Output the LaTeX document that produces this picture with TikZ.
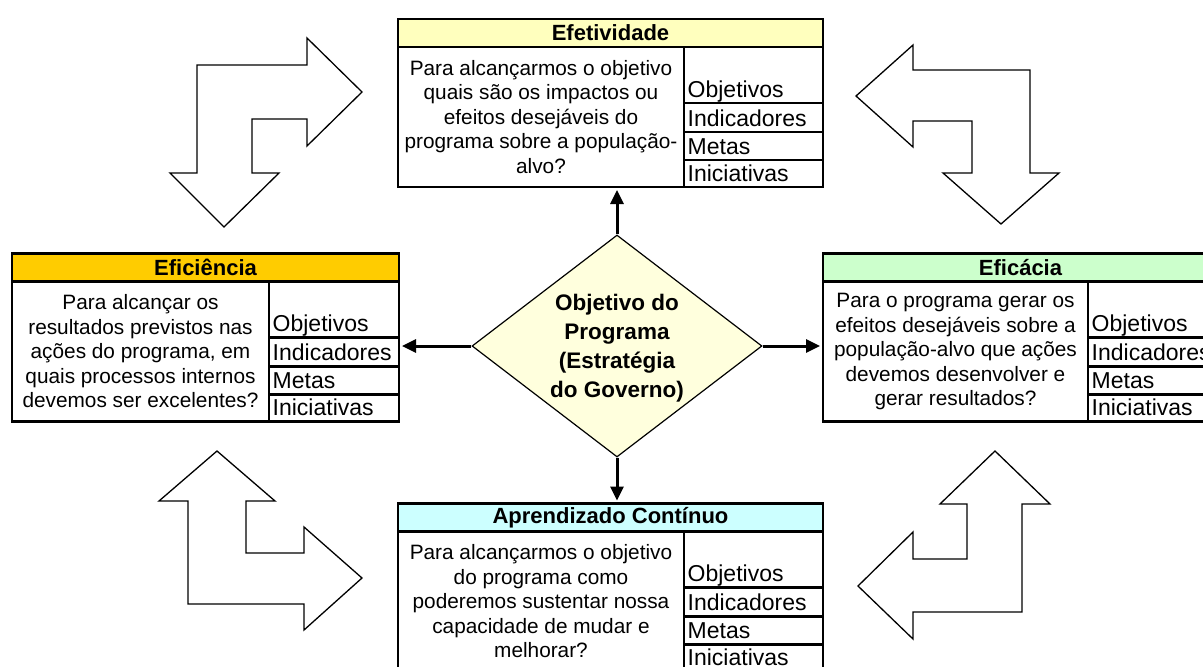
\documentclass[tikz,border=0pt]{standalone}
\usepackage{fontspec}
\setmainfont{Liberation Sans}
\usetikzlibrary{shapes.geometric,arrows.meta}
\definecolor{efeY}{RGB}{255,255,190}
\definecolor{efiY}{RGB}{255,204,0}
\definecolor{efcG}{RGB}{204,255,204}
\definecolor{aprC}{RGB}{204,255,255}
\definecolor{diaY}{RGB}{255,255,221}
\tikzset{
  cellbox/.style={draw, rectangle, line width=2.9pt, inner sep=0pt, outer sep=0pt},
  hdrbox/.style={cellbox, minimum height=28, font={\fontsize{22}{24}\selectfont\bfseries}},
  bodybox/.style={cellbox, minimum height=140, align=center, font={\fontsize{20.8}{24.5}\selectfont}},
  rowtext/.style={inner sep=0pt, anchor=base west, xshift=3.5pt, yshift=6pt, font={\fontsize{23}{25}\selectfont}},
  dia/.style={draw, diamond, fill=diaY, line width=1.2pt, inner sep=0pt, minimum width=290, minimum height=222},
  diatext/.style={align=center, inner sep=0pt, font={\fontsize{22.5}{29}\selectfont\bfseries}},
  conn/.style={line width=3pt, -{Triangle[length=14pt,width=13pt]}, shorten >=3pt},
  bent/.style={draw=black, fill=white, line width=1.3pt, line join=miter}
}
% #1 name, #2 left x, #3 top y, #4 left col width, #5 right col width, #6 colour, #7 title, #8 body
\newcommand{\bscpanel}[8]{%
  \node[hdrbox, fill=#6, minimum width={#4+#5}, anchor=north west] (#1-h) at (#2,#3) {#7};
  \node[bodybox, minimum width=#4, anchor=north west] (#1-q) at (#2,#3+28) {#8};
  \node[cellbox, minimum width=#5, minimum height=56, anchor=north west] (#1-r1) at (#2+#4,#3+28) {};
  \node[cellbox, minimum width=#5, minimum height=29, anchor=north west] (#1-r2) at (#2+#4,#3+84) {};
  \node[cellbox, minimum width=#5, minimum height=28, anchor=north west] (#1-r3) at (#2+#4,#3+113) {};
  \node[cellbox, minimum width=#5, minimum height=27, anchor=north west] (#1-r4) at (#2+#4,#3+141) {};
  \node[rowtext] (#1-t1) at (#1-r1.south west) {Objetivos};
  \node[rowtext] (#1-t2) at (#1-r2.south west) {Indicadores};
  \node[rowtext] (#1-t3) at (#1-r3.south west) {Metas};
  \node[rowtext] (#1-t4) at (#1-r4.south west) {Iniciativas};
}
\begin{document}
\begin{tikzpicture}[x=1pt,y=-1pt]
\useasboundingbox (0,0) rectangle (1203,667);
\fill[white] (0,0) rectangle (1203,667);
\clip (0,0) rectangle (1203,667);

% bent arrows
\draw[bent] (362,92) -- (307,38) -- (307,65) -- (197,65) -- (197,173) -- (170,173) -- (224,227) -- (279,173) -- (252,173) -- (252,119) -- (307,119) -- (307,146) -- cycle;
\draw[bent] (856,96) -- (913,45) -- (913,70) -- (1030,70) -- (1030,173) -- (1059,173) -- (1001,224) -- (943,173) -- (972,173) -- (972,121) -- (913,121) -- (913,147) -- cycle;
\draw[bent] (217,451) -- (159,501) -- (188,501) -- (188,604) -- (304,604) -- (304,630) -- (362,578) -- (304,527) -- (304,553) -- (246,553) -- (246,501) -- (275,501) -- cycle;
\draw[bent] (995,451) -- (1050,504) -- (1022,504) -- (1022,612) -- (913,612) -- (913,639) -- (858,586) -- (913,532) -- (913,559) -- (967,559) -- (967,504) -- (940,504) -- cycle;

% panels
\bscpanel{efe}{398}{19}{286}{139}{efeY}{Efetividade}{Para alcançarmos o objetivo\\quais são os impactos ou\\efeitos desejáveis do\\programa sobre a população-\\alvo?}
\bscpanel{efi}{12}{253.5}{257}{130}{efiY}{Eficiência}{Para alcançar os\\resultados previstos nas\\ações do programa, em\\quais processos internos\\devemos ser excelentes?}
\bscpanel{efc}{823}{253.5}{265}{130}{efcG}{Eficácia}{Para o programa gerar os\\efeitos desejáveis sobre a\\população-alvo que ações\\devemos desenvolver e\\gerar resultados?}
\bscpanel{apr}{398}{503.5}{286}{139}{aprC}{Aprendizado Contínuo}{Para alcançarmos o objetivo\\do programa como\\poderemos sustentar nossa\\capacidade de mudar e\\melhorar?}

% central diamond
\node[dia] (dia) at (617,346) {};
\node[diatext] (diat) at (617,348) {Objetivo do\\Programa\\(Estratégia\\do Governo)};

% connectors
\draw[conn] (dia.north) -- (dia.north |- efe-q.south);
\draw[conn] (dia.south) -- (dia.south |- apr-h.north);
\draw[conn] (dia.west) -- (dia.west -| efi-r2.east);
\draw[conn] (dia.east) -- (dia.east -| efc-q.west);
\end{tikzpicture}
\end{document}
